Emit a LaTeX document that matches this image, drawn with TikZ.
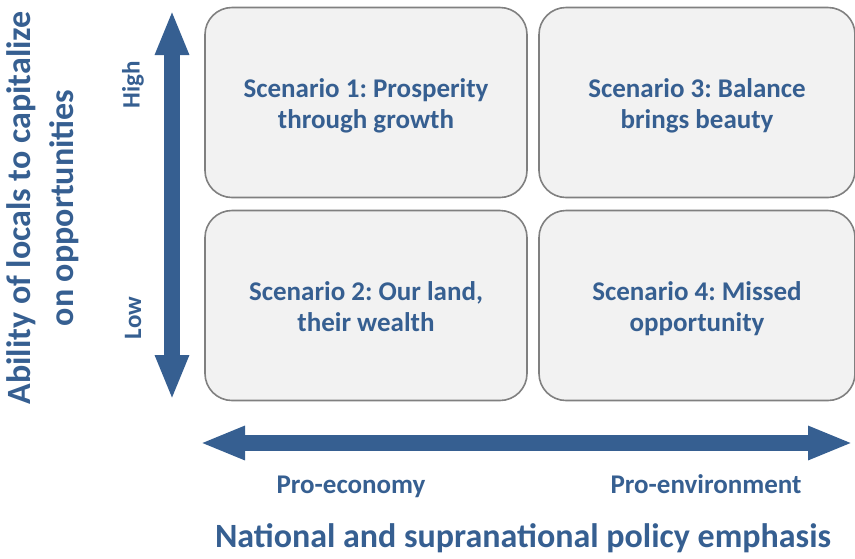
\documentclass[tikz,border=0pt]{standalone}
\usepackage{fontspec}
\setmainfont{Carlito}
\usepackage{xcolor}
\usetikzlibrary{arrows.meta,positioning}
\frenchspacing

\definecolor{axisblue}{HTML}{365F91}
\definecolor{boxfill}{HTML}{F2F2F2}
\definecolor{boxedge}{HTML}{808080}

\begin{document}
\begin{tikzpicture}[x=1pt,y=-1pt,
    scenario/.style={draw=boxedge, line width=1.6pt, fill=boxfill, rounded corners=27pt,
        minimum height=190pt},
    scentext/.style={align=center, text=axisblue, font=\fontsize{27}{31}\selectfont\bfseries},
    axis/.style={axisblue, line width=16pt,
        {Triangle[width=31pt,length=45pt]}-{Triangle[width=31pt,length=45pt]}},
    tick/.style={text=axisblue, font=\fontsize{25}{30}\selectfont\bfseries},
    title/.style={text=axisblue, align=center, font=\fontsize{34}{43}\selectfont\bfseries}]

\useasboundingbox (0,0) rectangle (855,558);

% Scenario grid
\node[scenario, minimum width=322pt] (s1) at (366,102.5) {};
\node[scenario, minimum width=322pt] (s2) at (366,305.5) {};
\node[scenario, minimum width=316pt] (s3) at (697,102.5) {};
\node[scenario, minimum width=316pt] (s4) at (697,305.5) {};
\node[scentext] (t1) at ([yshift=-4pt]s1.center) {Scenario 1: Prosperity\strut\\through growth\strut};
\node[scentext] (t2) at ([yshift=-4pt]s2.center) {Scenario 2: Our land,\strut\\their wealth\strut};
\node[scentext] (t3) at ([yshift=-4pt]s3.center) {Scenario 3: Balance\strut\\brings beauty\strut};
\node[scentext] (t4) at ([yshift=-4pt]s4.center) {Scenario 4: Missed\strut\\opportunity\strut};

% Axes
\coordinate (vtop) at (172,10);
\coordinate (vbot) at (172,400);
\coordinate (hleft) at (200,443);
\coordinate (hright) at (853,443);
\draw[axis] (vbot) -- (vtop);
\draw[axis] (hleft) -- (hright);

% Axis ends
\node[tick, rotate=90] (high) at (133,85) {High};
\node[tick, rotate=90] (low) at (133,318) {Low};
\node[tick, font=\fontsize{27}{32}\selectfont\bfseries, anchor=base] (econ) at (351,493) {Pro-economy};
\node[tick, font=\fontsize{27}{32}\selectfont\bfseries, anchor=base] (env) at (706,493) {Pro-environment};

% Axis titles
\node[title, rotate=90] (ytitle) at (43,208) {Ability of locals to capitalize\\on opportunities};
\node[title, anchor=base] (xtitle) at (523,547) {National and supranational policy emphasis};

\end{tikzpicture}
\end{document}
